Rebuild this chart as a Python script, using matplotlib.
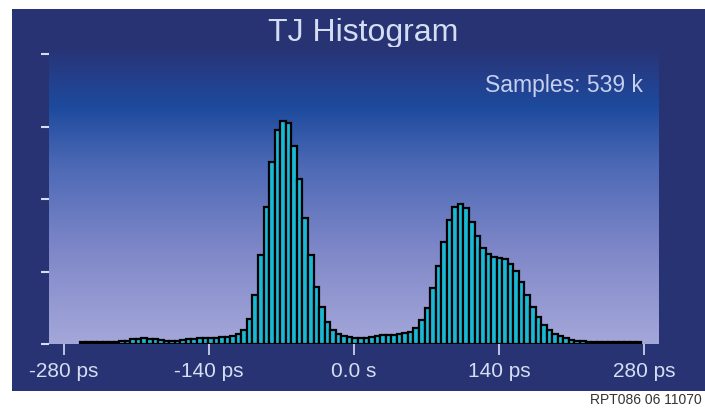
import numpy as np
import matplotlib
matplotlib.use("Agg")
import matplotlib.pyplot as plt
from matplotlib.patches import Rectangle
from matplotlib.colors import LinearSegmentedColormap

# ---- data ----
title = "TJ Histogram"
samples_label = "Samples: 539 k"
footer = "RPT086 06 11070"
tick_values = [-280, -140, 0, 140, 280]          # ps
tick_labels = ["-280 ps", "-140 ps", "0.0 s", "140 ps", "280 ps"]
first_bin_center = -261.5                        # ps
bin_width = 5.36                                 # ps
counts = [2.3, 2.3, 2.3, 2.3, 2.3, 2.3, 2.5, 3.3, 3.5, 5,
          5.5, 5.7, 5.5, 5, 4, 3.5, 3.3, 3.5, 4, 5,
          5.5, 6, 6, 6, 6, 7, 7, 8, 10, 14,
          25, 49, 89, 137, 182, 214, 223, 221, 198, 165,
          126, 89, 57, 37, 22, 14, 10, 8, 7, 6,
          6, 6, 7, 8, 9, 9, 9, 10, 11, 12,
          16, 24, 36, 56, 78, 102, 124, 137, 140, 136,
          122, 108, 96, 90, 87, 86, 85, 80, 73, 62,
          49, 37, 27, 19, 14, 10, 8, 6, 4.5, 3.5,
          3, 2.3, 2.3, 2.3, 2.3, 2.3, 2.3, 2.3, 2.3, 2.3, 2.3]
y_grid_step = 72.5

centers = first_bin_center + bin_width * np.arange(len(counts))

plt.rcParams['font.family'] = ['Liberation Sans', 'DejaVu Sans']

W, H = 705, 410
fig = plt.figure(figsize=(W / 100, H / 100), dpi=100, facecolor='white')

navy = '#283374'
light = '#d5ddf2'

# frame
fig.patches.append(Rectangle((12 / W, (H - 392) / H), (W - 12) / W, (392 - 10) / H,
                             transform=fig.transFigure, facecolor=navy,
                             edgecolor='none', zorder=-10))

ax_top_px, ax_bot_px, ax_left_px, ax_right_px = 48, 345, 49, 659
ax = fig.add_axes([ax_left_px / W, (H - ax_bot_px) / H,
                   (ax_right_px - ax_left_px) / W, (ax_bot_px - ax_top_px) / H])
ax.set_zorder(5)
ax.set_facecolor('none')

xlim = (-294.5, 294.5)
ytop = (ax_bot_px - ax_top_px)
ax.set_xlim(*xlim)
ax.set_ylim(0, ytop)

# background gradient
cmap = LinearSegmentedColormap.from_list('bg', [
    (0.00, '#a4a7d9'),
    (0.30, '#8189c9'),
    (0.60, '#4d69b6'),
    (0.80, '#1d4a9d'),
    (0.90, '#243f8b'),
    (1.00, navy)])
grad = np.linspace(0, 1, 256).reshape(-1, 1)
ax.imshow(grad, extent=[xlim[0], xlim[1], 0, ytop], origin='lower',
          aspect='auto', cmap=cmap, zorder=0, interpolation='bicubic')

ax.bar(centers, counts, width=bin_width, color='#19b9d6', edgecolor='black',
       linewidth=1.6, zorder=2, align='center')

for s in ax.spines.values():
    s.set_visible(False)

ax.set_xticks(tick_values)
ax.set_xticklabels(tick_labels)
ax.set_yticks(np.arange(5) * y_grid_step)
ax.set_yticklabels([])
ax.tick_params(axis='x', direction='out', length=8, width=1.2, color=light,
               labelcolor=light, labelsize=15, pad=4)
ax.tick_params(axis='y', direction='out', length=6, width=1.5, color=light, pad=0)

fig.text(0.515, (H - 40.5) / H, title, ha='center', va='baseline',
         fontsize=23, color=light)
fig.text(643 / W, (H - 92) / H, samples_label, ha='right', va='baseline',
         fontsize=16.5, color='#c6d0ee', zorder=10)
fig.text(590 / W, (H - 404) / H, footer, ha='left', va='baseline',
         fontsize=10, color='#333333')

fig.savefig('out.png', dpi=100, facecolor='white')
